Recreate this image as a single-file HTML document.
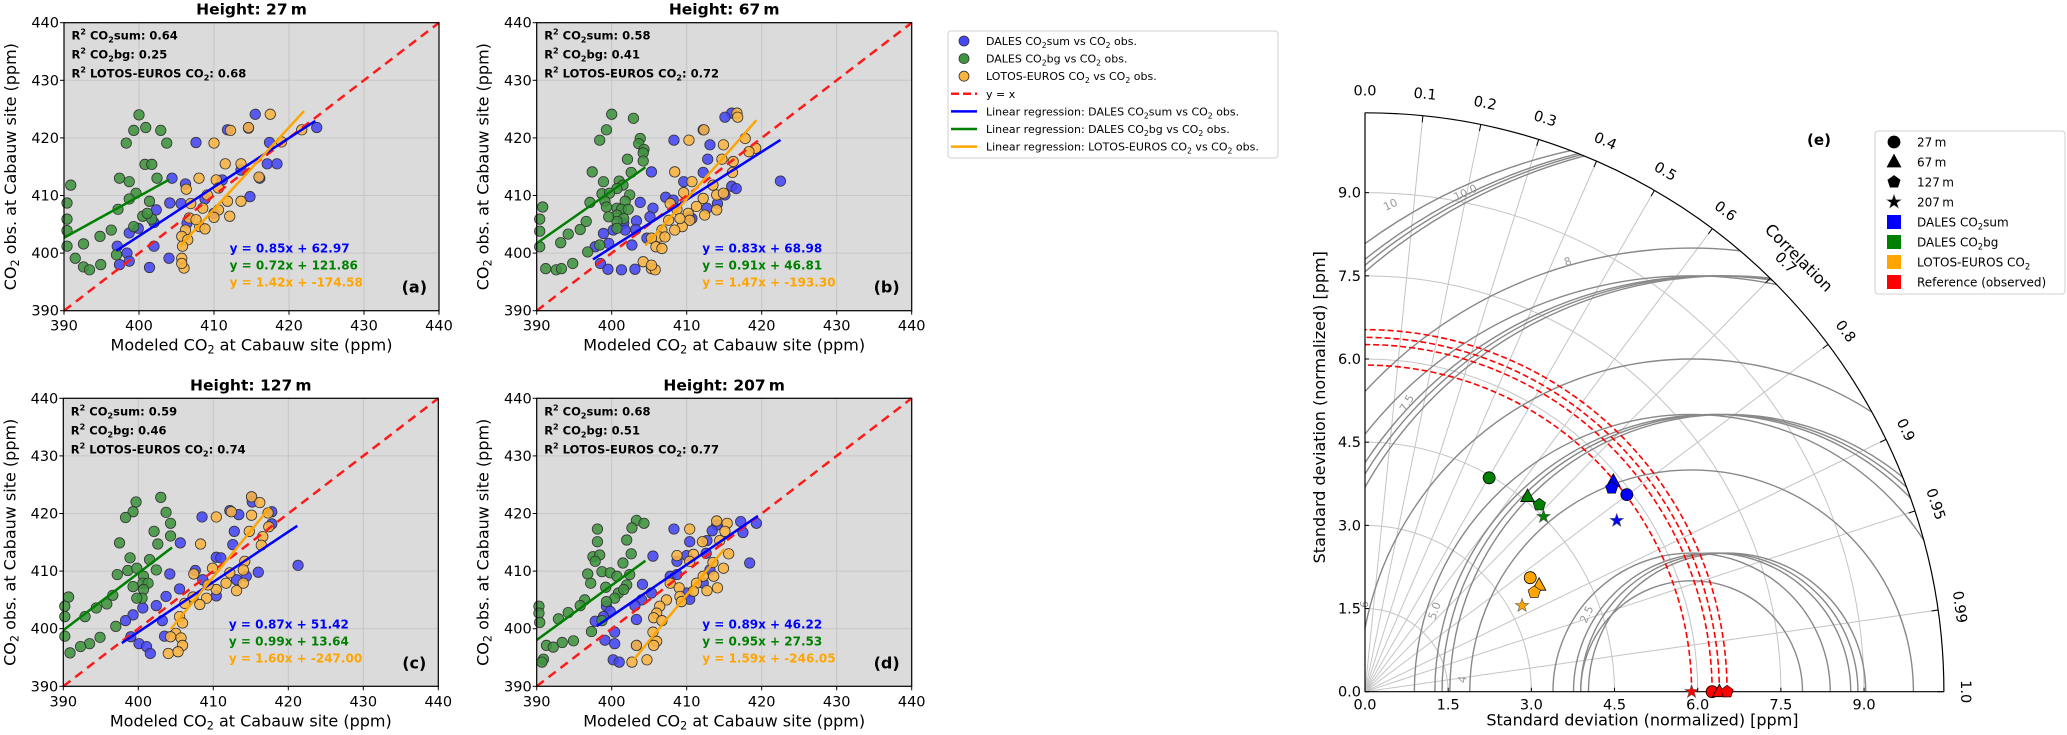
<!DOCTYPE html>
<html><head><meta charset="utf-8"><style>
html,body{margin:0;padding:0;background:#fff;overflow:hidden;width:2067px;height:735px;}
svg{display:block;font-family:"DejaVu Sans","Liberation Sans",sans-serif;}
</style></head><body>
<svg id="fig" width="2067" height="735" viewBox="0 0 2067 735" xmlns="http://www.w3.org/2000/svg"></svg>
<script>
// ---------- scatter panel data ----------
const titles = ['Height: 27\u2009m','Height: 67\u2009m','Height: 127\u2009m','Height: 207\u2009m'];
const panelTags = ['(a)','(b)','(c)','(d)'];
const r2Sum = ['0.64','0.58','0.59','0.68'];
const r2Bg = ['0.25','0.41','0.46','0.51'];
const r2Le = ['0.68','0.72','0.74','0.77'];
const slopeSum = [0.85,0.83,0.87,0.89];
const interSum = [62.97,68.98,51.42,46.22];
const slopeBg = [0.72,0.91,0.99,0.95];
const interBg = [121.86,46.81,13.64,27.53];
const slopeLe = [1.42,1.47,1.60,1.59];
const interLe = [-174.58,-193.30,-247.00,-246.05];
const rangeSum = [[397,423.5],[397.5,422.5],[397.8,421.2],[398,419.5]];
const rangeBg = [[390,404],[390,404.5],[390,404.5],[390,404.5]];
const rangeLe = [[405.5,422],[404.5,419.3],[404.3,417.5],[403,415]];
const ticks = [390,400,410,420,430,440];

const aSumX=[415.5,411.8,414.6,407.6,417.4,417.1,418.4,413.6,416.1,404.4,406.2,411.1,404.1,405.6,408.8,414.8,402.3,402,399.9,398.7,397.1,402,398.4,397.4,398.7,401.4,404,423.7,410,406.4];
const aSumY=[424.1,421.4,421.7,419.2,419.2,415.5,415.5,414.4,413,413,412,412.7,408.7,408.6,409.4,409.8,407.5,405.3,404.3,403.5,401.2,401.2,400,398,398.6,397.5,399.1,421.8,406.9,405.2];
const aBgX=[400,399.3,400.9,402.9,398.3,403.7,400.8,401.7,397.4,398.7,402.4,390.9,399.6,398.7,401.4,390.4,397.2,400.5,401.7,390.4,399.3,396.3,394.8,390.4,392.6,390.4,391.5,392.6,393.4,394.9,397,401.1];
const aBgY=[424,421.3,421.8,421.3,419.1,419.1,415.4,415.4,413,412.4,413,411.8,410.4,409.4,409,408.7,407.6,406.4,405.9,405.9,404.6,404,402.9,403.9,401.6,401.2,399.1,397.6,397.1,398,399.7,406.9];
const aLeX=[417.5,412.2,414.6,410,419,421.7,411.5,413.6,408,410.3,416,410.6,406.3,409.1,411.8,413.6,406.9,408.5,410.6,410,412.1,406.7,408.1,408.8,406.2,405.7,406.5,405.8,405.7,406,405.7,407.6];
const aLeY=[424.1,421.3,421.8,419.1,419.3,421.4,415.5,415.5,413,412.7,413.2,411.3,411.1,410.1,409,409,408.6,407.8,407.5,406.2,406.4,406.1,404.6,404.2,404,402.9,402.3,401.2,399.1,397.4,398.2,405.8];

const bSumX=[416,415.1,412.2,408.3,413.1,412.8,405.3,412.2,409.6,422.5,416,416.6,415.1,414.1,407.2,408.2,403.8,405.5,412.7,410.4,405.1,403.3,401.6,403.2,401.8,398.9,400.2,402.7,399.6,397.8,398.5,399.5,401.3,403.1,410.7,404.7];
const bSumY=[424.3,423.6,421.4,419.6,418.8,416.3,414.1,414,412.4,412.5,411.6,411.2,410.1,408.6,409.7,409.2,408.8,407.8,407.8,406.3,406.3,405.6,405.2,404.1,404,403.4,404,401.4,401.7,401.1,398.2,397.2,397.1,397.2,406,402.6];
const bBgX=[400,402.9,399.3,398.4,403.8,403.6,404.3,404.2,402.1,404.2,397.4,402.6,398.9,401,401.5,400.7,398.7,399.7,402.4,397.1,399.1,401.8,399.3,400.7,401.3,402.2,390.8,400.7,401.6,400.7,390.4,396.6,400.7,395.8,394.2,390.4,390.4,393.2,396.8,398.4,394.8,391.2,392.6,393.3,399.6];
const bBgY=[424.1,423.4,421.4,419.6,419.9,419,418,417.4,416.3,416,414.1,414,412.4,412.5,411.8,411.2,410.3,410.4,410.1,408.8,409,409,408,407.8,407.6,407.6,408,406.6,406,405.5,405.9,405.5,404.3,404.1,403.3,403.8,401.1,401.8,400.2,401.4,398.2,397.3,397.1,397.3,406.3];
const bLeX=[416.7,416.8,412.3,410.3,414.9,417.8,419.2,418.3,414.7,416.2,408.4,416.1,410.7,413.5,414,414.9,409.6,407.8,412.2,411.3,414,408.7,410.2,412.4,410.4,407.6,409.4,408.4,406.7,406.4,405.3,405.9,406.7,404.2,405.3,405.8,405.3,409.1,407.1];
const bLeY=[424.3,423.6,421.4,419.6,418.8,419.9,418.2,417.6,416.3,415.9,414.1,414,412.4,411.8,410.1,410.4,410.5,408.6,409.5,408.1,407.5,407.6,406.9,406.6,405.7,405.7,404.6,404,404,402.8,402.6,401.1,400.8,398.5,397.3,397.1,397.9,406,402.8];

const cSumX=[415.1,415.2,412.2,413.4,417.8,408.5,417.8,412.8,405.6,412.6,410.4,411,421.3,404.2,407.6,416,414.4,413.1,405.5,410.4,403.7,402.4,400.6,399.3,398.3,403.2,403.5,399,400.1,401.1,401.6,408.6];
const cSumY=[422.9,422,420.5,419.8,420.3,419.4,418.2,416.9,414.9,414.6,412.4,412.3,411,409.5,410.1,409.8,409.1,408.5,406.9,405.7,405.6,404,403.6,402.4,401.4,401.4,398.7,398.6,397.4,396.9,395.7,408.5];
const cBgX=[403,399.7,399.3,398.3,403.7,404.3,404.3,402.1,402.6,397.5,401.5,398.9,398.6,399.8,402.4,397.2,400.7,400.6,401.3,399.3,400.7,400.5,390.7,396.6,390.2,395.8,394.4,390.2,392.9,397,394.9,393.5,392.3,390.9,390.2,399.8];
const cBgY=[422.8,422,420.3,419.3,420.2,418.3,416.1,416.9,414.7,414.9,412,412.3,410.1,410.5,410.2,409.4,409.1,407.9,407.9,407.3,406.8,405.3,405.5,405.8,403.9,404.3,403.6,402.1,402.1,400.4,398.5,397.4,396.9,395.8,398.7,405.3];
const cLeX=[415.1,416.2,410.4,412.4,415.1,417.3,414.8,416.6,416.4,408.3,417.4,414.2,414,409.9,407.4,412.2,411.7,414,413.1,410.4,409.1,407.3,406.2,405.5,405.9,405,404.3,405.7,405.9,404,405.3,409.3,408.2];
const cLeY=[422.9,421.9,419.4,420.3,419.7,420.1,416.9,416,414.5,414.7,417.7,411.7,410.2,410.5,409.5,409.7,407.9,407.9,406.6,406.8,405.3,405.5,404.4,402.1,401,399.2,398.6,398.4,397.1,395.7,396,407.6,404.2];

const dSumX=[417.2,419.3,417.5,408.3,414,413.4,412.7,410.4,405.5,408.7,410,412.6,418.4,407.8,408.7,413.1,404.1,412.2,410,405.3,404,403.1,399.3,399.8,398.9,397.8,403.3,400.4,399.1,400.4,403.3,400.2,401,410.4];
const dSumY=[418.6,418.3,416.7,417.3,418,417,415.3,415.1,412.6,411.7,412.7,413.1,411.4,409.1,409.4,410.2,407.7,407.9,406.2,406.2,405,404,403.9,403,402.1,401.3,401.6,399.4,398,397.4,397.1,394.6,394.2,405.1];
const dBgX=[403.3,402.7,404.3,398.1,398.1,402,397.5,398.4,397.8,402.6,401.5,396.8,398.7,399.8,400.7,402.4,397.2,399.2,402,400.9,401.6,400.4,399.3,396.4,395.8,394.2,390.3,390.3,392.9,390.4,397.3,398.7,394.9,393.4,391.3,392.2,390.9,390.7];
const dBgY=[418.8,417.5,418.3,417.3,415.1,415.4,412.5,412.8,411.7,413,411.4,409.5,409.9,409.7,409.1,409.4,407.9,407.2,407.6,406.2,406.8,405.3,404.7,405,404,402.8,403.9,402.7,401.7,401.1,399.5,401.4,397.9,397.6,397.1,396.8,394.7,394.2];
const dLeX=[414,415.4,410.4,415.1,412.1,414.4,415.6,408.7,410.9,410.4,413.5,414.9,412.2,413.6,407.8,409,411.3,414.1,412.7,410.9,409.1,407.3,409.3,406.4,406,405.6,406.7,405.5,406,405.6,404.7,402.7,403.3];
const dLeY=[418.7,418.3,417.3,416.9,415.1,415.3,413,412.7,412.9,411.7,411.5,410.5,409.1,409.1,407.9,407.1,407.9,407.1,406.6,406.5,405.6,405,404.7,403.9,402.7,401.9,401.4,399.4,397.8,397.1,394.6,394.2,397.1];

const sumX=[aSumX,bSumX,cSumX,dSumX], sumY=[aSumY,bSumY,cSumY,dSumY];
const bgX=[aBgX,bBgX,cBgX,dBgX], bgY=[aBgY,bBgY,cBgY,dBgY];
const leX=[aLeX,bLeX,cLeX,dLeX], leY=[aLeY,bLeY,cLeY,dLeY];

// ---------- Taylor diagram data ----------
const modelSeries = ['DALES CO2sum','DALES CO2bg','LOTOS-EUROS CO2'];
const heights = ['27m','67m','127m','207m'];
const sumStd = [5.91,5.87,5.77,5.49];
const sumCorr = [0.799,0.763,0.771,0.827];
const bgStd = [4.46,4.58,4.61,4.51];
const bgCorr = [0.502,0.640,0.682,0.714];
const leStd = [3.62,3.68,3.54,3.23];
const leCorr = [0.823,0.853,0.862,0.877];
const refStd = [6.26,6.39,6.53,5.89];
const corrTicks = [0.0,0.1,0.2,0.3,0.4,0.5,0.6,0.7,0.8,0.9,0.95,0.99,1.0];
const stdTicks = [0.0,1.5,3.0,4.5,6.0,7.5,9.0];
const rmsAll = [2.5,5,7.5,10];
const rmsSingle = [2,4,6,8];

const NS='http://www.w3.org/2000/svg';
const svg=document.getElementById('fig');
function el(tag,attrs,parent){const e=document.createElementNS(NS,tag);for(const k in attrs)e.setAttribute(k,attrs[k]);(parent||svg).appendChild(e);return e;}
const sub2='<tspan font-size="70%" dy="3">2</tspan><tspan dy="-3">';

// ---------- scatter panels ----------
const PW=375, PH=288;
const lefts=[64,536.7,63.3,536.7], tops=[22.7,22.7,398.3,398.3];
for(let p=0;p<4;p++){
  const L=lefts[p], T=tops[p];
  const sx=v=>L+(v-390)/50*PW, sy=v=>T+PH-(v-390)/50*PH;
  const g=el('g',{});
  
  
  const bg=el('rect',{x:L,y:T,width:PW,height:PH,fill:'#dbdbdb'},g);
  
  
  ticks.forEach(t=>{
    el('line',{x1:sx(t),x2:sx(t),y1:T,y2:T+PH,stroke:'#c6c6c6','stroke-width':1},g);
    el('line',{x1:L,x2:L+PW,y1:sy(t),y2:sy(t),stroke:'#c6c6c6','stroke-width':1},g);
    const xt=el('text',{x:sx(t),y:T+PH+20,'text-anchor':'middle','font-size':14.5,fill:'#000'},g); xt.textContent=t;
    
    
    const yt=el('text',{x:L-5,y:sy(t)+5,'text-anchor':'end','font-size':14.5,fill:'#000'},g); yt.textContent=t;
    
    
    el('line',{x1:sx(t),x2:sx(t),y1:T+PH,y2:T+PH+4,stroke:'#000'},g);
    el('line',{x1:L-4,x2:L,y1:sy(t),y2:sy(t),stroke:'#000'},g);
  });
  const series=[[sumX[p],sumY[p],'#4646f5','dales-sum-point'],[bgX[p],bgY[p],'#3f943f','dales-bg-point'],[leX[p],leY[p],'#f9b441','lotos-euros-point']];
  series.forEach(s=>{
    for(let i=0;i<s[0].length;i++){
      const c=el('circle',{cx:sx(s[0][i]),cy:sy(s[1][i]),r:5.2,fill:s[2],'fill-opacity':0.88,stroke:'#333','stroke-width':0.8},g);
      
      
    }
  });
  const idl=el('line',{x1:sx(390),y1:sy(390),x2:sx(440),y2:sy(440),stroke:'#ff1a1a','stroke-width':2.5,'stroke-dasharray':'9,6'},g);
  
  
  const regs=[[slopeSum[p],interSum[p],rangeSum[p],'#0000ff','regression-dales-sum'],[slopeBg[p],interBg[p],rangeBg[p],'#008000','regression-dales-bg'],[slopeLe[p],interLe[p],rangeLe[p],'#ffa500','regression-lotos-euros']];
  regs.forEach(r=>{
    const x0=r[2][0],x1=r[2][1];
    const ln=el('line',{x1:sx(x0),y1:sy(r[0]*x0+r[1]),x2:sx(x1),y2:sy(r[0]*x1+r[1]),stroke:r[3],'stroke-width':2.5},g);
    
    
  });
  el('rect',{x:L,y:T,width:PW,height:PH,fill:'none',stroke:'#000','stroke-width':1.2},g);
  const tt=el('text',{x:L+PW/2,y:T-8,'text-anchor':'middle','font-size':15.5,'font-weight':'bold'},g); tt.textContent=titles[p];
  
  
  const xl=el('text',{x:L+PW/2,y:T+PH+40,'text-anchor':'middle','font-size':16},g);
  xl.innerHTML='Modeled CO'+sub2+' at Cabauw site (ppm)</tspan>';
  
  
  const yl=el('text',{x:0,y:0,'text-anchor':'middle','font-size':16,transform:`translate(${L-48},${T+PH/2}) rotate(-90)`},g);
  yl.innerHTML='CO'+sub2+' obs. at Cabauw site (ppm)</tspan>';
  
  
  const r2t=[['CO'+sub2+'sum: '+r2Sum[p]+'</tspan>'],['CO'+sub2+'bg: '+r2Bg[p]+'</tspan>'],['LOTOS-EUROS CO'+sub2+': '+r2Le[p]+'</tspan>']];
  r2t.forEach((s,i)=>{
    const t=el('text',{x:L+7.5,y:T+17+i*19,'font-size':11.5,'font-weight':'bold'},g);
    t.innerHTML='R<tspan font-size="70%" dy="-5">2</tspan><tspan dy="5"> </tspan>'+s[0];
    
    
  });
  const eqs=[[slopeSum[p],interSum[p],'#0000ff'],[slopeBg[p],interBg[p],'#008000'],[slopeLe[p],interLe[p],'#ffa500']];
  eqs.forEach((e,i)=>{
    const t=el('text',{x:L+165.6,y:T+230+i*17,'font-size':12,'font-weight':'bold',fill:e[2]},g);
    t.textContent='y = '+e[0].toFixed(2)+'x + '+e[1].toFixed(2);
    
    
  });
  const pt=el('text',{x:L+PW-12,y:T+PH-18,'text-anchor':'end','font-size':16,'font-weight':'bold'},g);
  pt.textContent=panelTags[p];
  
  
}

// ---------- scatter legend ----------
(function(){
  const g=el('g',{});
  
  
  el('rect',{x:948,y:31,width:330,height:127,rx:3,fill:'#fff',stroke:'#d0d0d0'},g);
  const items=[['m','#4646f5','DALES CO'+sub2+'sum vs CO</tspan>'+sub2+' obs.</tspan>'],
    ['m','#3f943f','DALES CO'+sub2+'bg vs CO</tspan>'+sub2+' obs.</tspan>'],
    ['m','#f9b441','LOTOS-EUROS CO'+sub2+' vs CO</tspan>'+sub2+' obs.</tspan>'],
    ['d','#ff1a1a','y = x'],
    ['l','#0000ff','Linear regression: DALES CO'+sub2+'sum vs CO</tspan>'+sub2+' obs.</tspan>'],
    ['l','#008000','Linear regression: DALES CO'+sub2+'bg vs CO</tspan>'+sub2+' obs.</tspan>'],
    ['l','#ffa500','Linear regression: LOTOS-EUROS CO'+sub2+' vs CO</tspan>'+sub2+' obs.</tspan>']];
  items.forEach((it,i)=>{
    const y=41+i*17.6;
    if(it[0]==='m') el('circle',{cx:964,cy:y,r:5,fill:it[1],stroke:'#333','stroke-width':0.8},g);
    else el('line',{x1:951,x2:977,y1:y,y2:y,stroke:it[1],'stroke-width':2.5,'stroke-dasharray':it[0]==='d'?'8,4':'none'},g);
    const t=el('text',{x:986,y:y+4,'font-size':11},g);
    t.innerHTML=it[2];
    
    
  });
})();

// ---------- Taylor diagram ----------
(function(){
  const OX=1365, OY=691.7, S=55.45, R=10.44;
  const X=(sd,c)=>OX+sd*c*S, Y=(sd,c)=>OY-sd*Math.sqrt(Math.max(0,1-c*c))*S;
  const g=el('g',{});
  
  
  stdTicks.forEach(s=>{ if(s>0) el('path',{d:`M${OX+s*S},${OY} A${s*S},${s*S} 0 0 0 ${OX},${OY-s*S}`,fill:'none',stroke:'#c4c4c4','stroke-width':1},g);});
  corrTicks.forEach(c=>{ if(c>0&&c<1) el('line',{x1:OX,y1:OY,x2:X(R,c),y2:Y(R,c),stroke:'#c4c4c4','stroke-width':1},g);});
  const cg=el('g',{},g);
  
  
  // arc of circle centred (c,0) radius r, restricted to x>=0, y>=0, dist<=R
  function rmsArc(c,r){
    let p1x,p1y;
    if(c+r<=R){p1x=c+r;p1y=0;}
    else {p1x=(R*R-r*r+c*c)/(2*c); p1y=Math.sqrt(Math.max(0,R*R-p1x*p1x));}
    let p2x,p2y;
    if(c-r>=0){p2x=c-r;p2y=0;}
    else {p2x=0;p2y=Math.sqrt(Math.max(0,r*r-c*c));}
    const d=`M${OX+p1x*S},${OY-p1y*S} A${r*S},${r*S} 0 0 0 ${OX+p2x*S},${OY-p2y*S}`;
    const a=el('path',{d,fill:'none',stroke:'#888','stroke-width':1.4},cg);
    
    
  }
  refStd.forEach(rs=>{ rmsAll.forEach(r=>rmsArc(rs,r)); });
  rmsSingle.forEach(r=>rmsArc(refStd[3],r));
  [['10',1392,208,-25],['10.0',1467,196,-25],['8',1569,265,-20],['7.5',1410,405,-60],['5.0',1438,612,-70],['2.5',1590,616,-65],['4',1466,680,-80],['6',1368,605,-80]].forEach(l=>{
    const t=el('text',{x:0,y:0,'font-size':11,fill:'#999','text-anchor':'middle',transform:`translate(${l[1]},${l[2]}) rotate(${l[3]})`},g);
    t.textContent=l[0];
    
    
  });
  refStd.forEach(rs=>{
    const a=el('path',{d:`M${OX+rs*S},${OY} A${rs*S},${rs*S} 0 0 0 ${OX},${OY-rs*S}`,fill:'none',stroke:'#ff0000','stroke-width':1.6,'stroke-dasharray':'6,3'},g);
    
    
  });
  el('path',{d:`M${OX+R*S},${OY} A${R*S},${R*S} 0 0 0 ${OX},${OY-R*S}`,fill:'none',stroke:'#000','stroke-width':1.2},g);
  el('line',{x1:OX,y1:OY,x2:OX+R*S,y2:OY,stroke:'#000','stroke-width':1.2},g);
  el('line',{x1:OX,y1:OY,x2:OX,y2:OY-R*S,stroke:'#000','stroke-width':1.2},g);
  stdTicks.forEach(s=>{
    const xt=el('text',{x:OX+s*S,y:OY+18,'text-anchor':'middle','font-size':14.5},g); xt.textContent=s.toFixed(1);
    
    
    const yt=el('text',{x:OX-4,y:OY-s*S+5,'text-anchor':'end','font-size':14.5},g); yt.textContent=s.toFixed(1);
    
    
    el('line',{x1:OX+s*S,x2:OX+s*S,y1:OY,y2:OY-4,stroke:'#000'},g);
    el('line',{x1:OX,x2:OX+4,y1:OY-s*S,y2:OY-s*S,stroke:'#000'},g);
  });
  corrTicks.forEach(c=>{
    el('line',{x1:X(R,c),y1:Y(R,c),x2:X(R-0.12,c),y2:Y(R-0.12,c),stroke:'#000'},g);
    const th=Math.acos(c)*180/Math.PI;
    const t=el('text',{x:0,y:0,'text-anchor':'middle','font-size':14.5,transform:`translate(${X(R+0.38,c)},${Y(R+0.38,c)}) rotate(${90-th})`},g);
    t.setAttribute('dominant-baseline','middle');
    t.textContent=(c===0.95||c===0.99)?c.toFixed(2):c.toFixed(1);
    
    
  });
  const ct=el('text',{x:0,y:0,'text-anchor':'middle','font-size':16,transform:`translate(${X(11.05,0.707)},${Y(11.05,0.707)}) rotate(45)`},g);
  ct.setAttribute('dominant-baseline','middle'); ct.textContent='Correlation';
  
  
  const xl=el('text',{x:OX+R*S/2-12,y:OY+34,'text-anchor':'middle','font-size':16},g); xl.textContent='Standard deviation (normalized) [ppm]';
  
  
  const yl=el('text',{x:0,y:0,'text-anchor':'middle','font-size':16,transform:`translate(${OX-40},${OY-R*S/2+5}) rotate(-90)`},g); yl.textContent='Standard deviation (normalized) [ppm]';
  
  
  const et=el('text',{x:1819,y:145,'text-anchor':'middle','font-size':15,'font-weight':'bold'},g); et.textContent='(e)';
  
  

  function marker(shape,cx,cy,fill,parent,sz){
    sz=sz||1;
    if(shape===0) return el('circle',{cx,cy,r:6*sz,fill,stroke:'#000','stroke-width':0.8},parent);
    if(shape===1) return el('polygon',{points:`${cx},${cy-7.5*sz} ${cx+6.8*sz},${cy+5*sz} ${cx-6.8*sz},${cy+5*sz}`,fill,stroke:'#000','stroke-width':0.8},parent);
    let pts=[];
    if(shape===2){for(let k=0;k<5;k++){const a=-Math.PI/2+k*2*Math.PI/5;pts.push((cx+6.5*sz*Math.cos(a))+','+(cy+6.5*sz*Math.sin(a)));}}
    else {for(let k=0;k<10;k++){const a=-Math.PI/2+k*Math.PI/5;const rr=(k%2?2.8:7)*sz;pts.push((cx+rr*Math.cos(a))+','+(cy+rr*Math.sin(a)));}}
    return el('polygon',{points:pts.join(' '),fill,stroke:shape===3?'#555':'#000','stroke-width':0.6},parent);
  }
  const groups=[[sumStd,sumCorr,'#0000ff','dales-sum-marker'],[bgStd,bgCorr,'#008000','dales-bg-marker'],[leStd,leCorr,'#ffa500','lotos-euros-marker']];
  groups.forEach(gr=>{
    for(let i=0;i<4;i++){
      const m=marker(i,X(gr[0][i],gr[1][i]),Y(gr[0][i],gr[1][i]),gr[2],g);
      
      
    }
  });
  for(let i=0;i<4;i++){
    const m=marker(i,X(refStd[i],1),OY,'#ff0000',g);
    
    
  }
  const lg=el('g',{},g);
  
  
  el('rect',{x:1875,y:131,width:190,height:163,rx:3,fill:'#fff',stroke:'#d0d0d0'},lg);
  const rows=[[0,'#000','27\u2009m'],[1,'#000','67\u2009m'],[2,'#000','127\u2009m'],[3,'#000','207\u2009m'],
    [4,'#0000ff','DALES CO'+sub2+'sum</tspan>'],[4,'#008000','DALES CO'+sub2+'bg</tspan>'],[4,'#ffa500','LOTOS-EUROS CO'+sub2+'</tspan>'],[4,'#ff0000','Reference (observed)']];
  rows.forEach((r,i)=>{
    const y=142+i*20;
    if(r[0]<4) marker(r[0],1894,y,'#000',lg,r[0]===3?1.05:1);
    else el('rect',{x:1887,y:y-7,width:14,height:14,fill:r[1]},lg);
    const t=el('text',{x:1917,y:y+4.5,'font-size':12},lg);
    t.innerHTML=r[2];
    
    
  });
})();
</script>
</body></html>
